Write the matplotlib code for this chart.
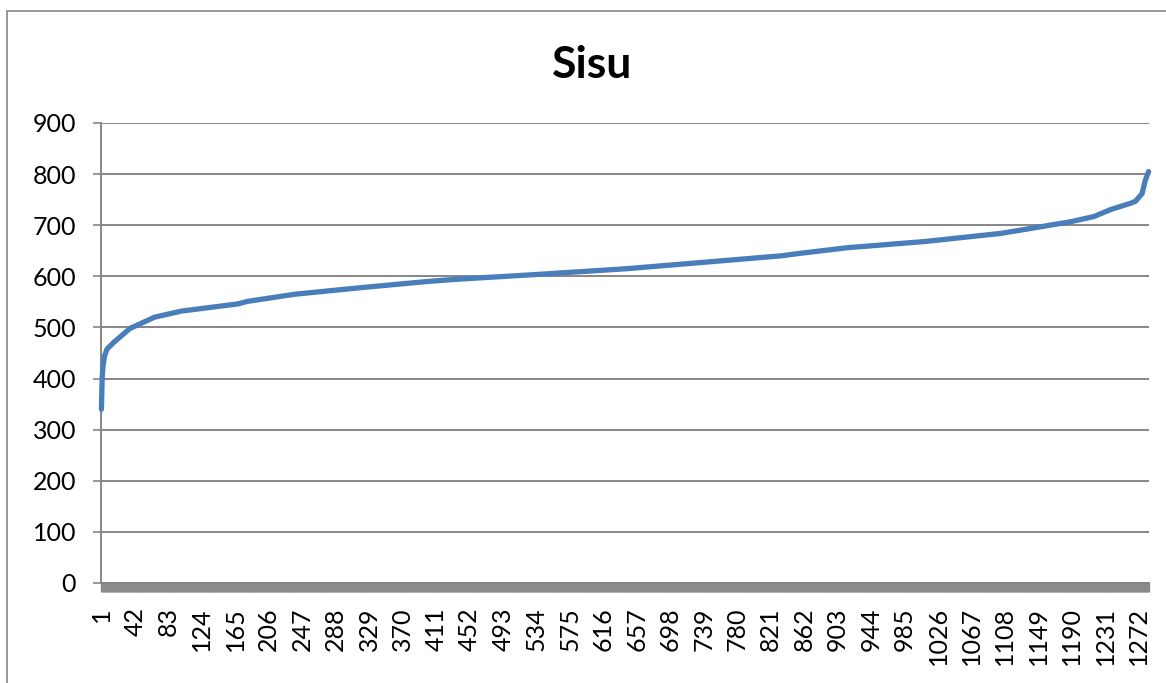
import matplotlib
matplotlib.use('Agg')
from matplotlib import pyplot as plt
from matplotlib.patches import Rectangle
from matplotlib.ticker import FixedLocator

# number of categories on the x axis
n_categories = 1284

# points (category index, value)
cat_idx = [1, 2, 3, 5, 8, 17, 36, 66, 99, 168, 180, 238, 320, 401, 434, 538,
           645, 743, 833, 857, 915, 1009, 1103, 1152, 1189, 1217, 1238, 1262,
           1268, 1276, 1280, 1284]
values = [340, 405, 425, 445, 458, 472, 498, 520, 532, 546, 551, 565, 578, 590,
          594, 604, 615, 628, 640, 645, 656, 668, 684, 697, 707, 717, 731, 743,
          747, 762, 788, 805]

x_labels = [1, 42, 83, 124, 165, 206, 247, 288, 329, 370, 411, 452, 493, 534,
            575, 616, 657, 698, 739, 780, 821, 862, 903, 944, 985, 1026, 1067,
            1108, 1149, 1190, 1231, 1272]
y_ticks = [0, 100, 200, 300, 400, 500, 600, 700, 800, 900]

plt.rcParams['font.family'] = ['Lato', 'DejaVu Sans']

W, H = 1166, 683
fig = plt.figure(figsize=(W / 100, H / 100), dpi=100)
ax = fig.add_axes([101 / W, 1 - 583 / H, (1149 - 101) / W, (583 - 123) / H])

grey = '#868686'

# chart frame (only left and top visible)
fig.patches.append(Rectangle((7 / W, -0.1), 2, 1 - 11 / H + 0.1,
                             transform=fig.transFigure, fill=False,
                             edgecolor=grey, linewidth=1.2))

ax.plot(cat_idx, values, color='#4a7ebb', linewidth=3.8, solid_capstyle='round',
        solid_joinstyle='round', zorder=3, clip_on=False)

ax.set_xlim(0.5, n_categories + 0.5)
ax.set_ylim(0, 900)
ax.set_yticks(y_ticks)
ax.yaxis.grid(True, color=grey, linewidth=1.4)
ax.set_axisbelow(True)

ax.set_xticks(x_labels)
ax.set_xticklabels([str(v) for v in x_labels], rotation=90)
ax.xaxis.set_minor_locator(FixedLocator(range(1, n_categories + 1)))

ax.tick_params(axis='y', length=6, width=1.2, color=grey, pad=12, labelsize=18)
ax.tick_params(axis='x', which='both', length=6.5, width=1.0, color='#8a8a8a',
               pad=11, labelsize=18)

for s in ['top', 'right']:
    ax.spines[s].set_visible(False)
for s in ['left', 'bottom']:
    ax.spines[s].set_color(grey)
    ax.spines[s].set_linewidth(1.4)

fig.text(592 / W, 1 - 65 / H, 'Sisu', ha='center', va='center',
         fontsize=32, fontweight='bold')

fig.savefig('out.png', dpi=100)
